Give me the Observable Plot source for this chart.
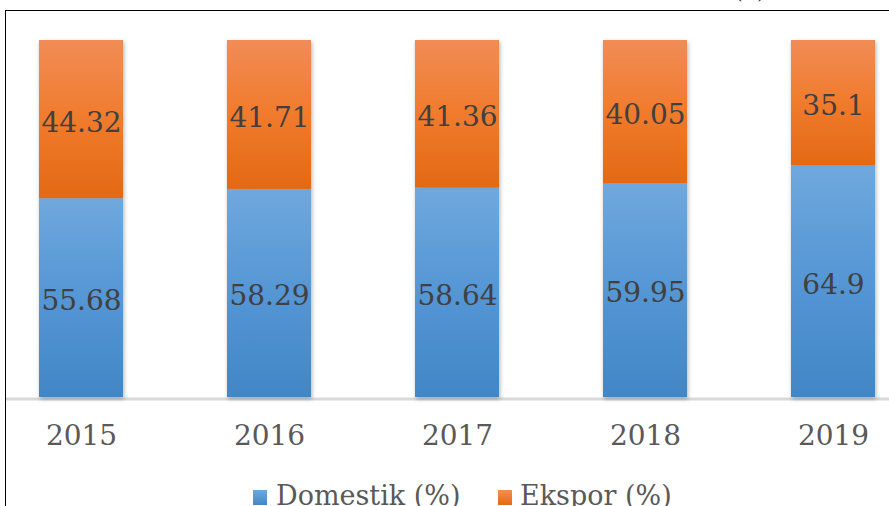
<!DOCTYPE html>
<html><head><meta charset="utf-8">
<script src="https://cdn.jsdelivr.net/npm/d3@7"></script>
<script src="https://cdn.jsdelivr.net/npm/@observablehq/plot@0.6"></script>
<style>
html,body{margin:0;padding:0;background:#fff;}
#wrap{position:relative;width:889px;height:506px;overflow:hidden;background:#fff;font-family:"DejaVu Serif",serif;}
#chart{position:absolute;left:0;top:0;}
#border{position:absolute;left:5px;top:9.5px;width:1000px;height:1000px;border:1.5px solid #000;box-sizing:border-box;pointer-events:none;}
.leg{position:absolute;top:480px;font-size:27px;line-height:normal;color:#595959;white-space:nowrap;}
.sw{position:absolute;top:490px;width:14px;height:15px;}
#unit{position:absolute;left:736px;top:-16px;font-size:16px;line-height:normal;color:#000;}
</style>
</head><body>
<div id="wrap">
  <div id="unit">(%)</div>
  <div id="chart"></div>
  <div id="border"></div>
  <div class="sw" style="left:253px;background:linear-gradient(#6fa8dd,#4387c7);"></div>
  <div class="leg" id="l1" style="left:276px;"></div>
  <div class="sw" style="left:498px;background:linear-gradient(#f28e55,#e36a14);"></div>
  <div class="leg" id="l2" style="left:520px;"></div>
</div>
<script>
const years = ["2015", "2016", "2017", "2018", "2019"];
const domestik = [55.68, 58.29, 58.64, 59.95, 64.9];
const ekspor = [44.32, 41.71, 41.36, 40.05, 35.1];
const series = ["Domestik (%)", "Ekspor (%)"];

const rows = [];
years.forEach((y, i) => {
  rows.push({year: y, series: series[0], value: domestik[i]});
  rows.push({year: y, series: series[1], value: ekspor[i]});
});

document.getElementById("l1").textContent = series[0];
document.getElementById("l2").textContent = series[1];

const plot = Plot.plot({
  width: 889,
  height: 470,
  marginTop: 40,
  marginBottom: 73,
  marginLeft: 6,
  marginRight: 0,
  style: {fontFamily: "DejaVu Serif", fontSize: "28px", background: "transparent", color: "#595959"},
  x: {domain: years, range: [-13, 927], paddingInner: 0.553, paddingOuter: 0.2765, label: null},
  y: {domain: [0, 100], axis: null},
  color: {domain: series, range: ["url(#gBlue)", "url(#gOrange)"]},
  marks: [
    Plot.ruleY([0], {stroke: "#d9d9d9", strokeWidth: 3, dy: 1.5}),
    Plot.barY(rows, Plot.stackY({x: "year", y: "value", fill: "series", order: series})),
    Plot.text(rows, Plot.stackY({x: "year", y: "value", z: "series", order: series, text: d => String(d.value), fill: "#404040", fontSize: 28, dy: 3})),
    Plot.axisX({tickSize: 0, tickPadding: 28, fill: "#595959", fontSize: 28, label: null})
  ]
});

const svg = d3.select(plot);
const defs = svg.insert("defs", ":first-child");
const gb = defs.append("linearGradient").attr("id", "gBlue").attr("x1", 0).attr("y1", 0).attr("x2", 0).attr("y2", 1);
gb.append("stop").attr("offset", "0%").attr("stop-color", "#6fa8dd");
gb.append("stop").attr("offset", "50%").attr("stop-color", "#5596d5");
gb.append("stop").attr("offset", "100%").attr("stop-color", "#4286c6");
const go = defs.append("linearGradient").attr("id", "gOrange").attr("x1", 0).attr("y1", 0).attr("x2", 0).attr("y2", 1);
go.append("stop").attr("offset", "0%").attr("stop-color", "#f18c56");
go.append("stop").attr("offset", "50%").attr("stop-color", "#f07b2c");
go.append("stop").attr("offset", "100%").attr("stop-color", "#e36913");
svg.selectAll('g[aria-label="bar"]').style("filter", "drop-shadow(1px 2px 2px rgba(0,0,0,0.3))");

document.getElementById("chart").appendChild(plot);
</script>
</body></html>
